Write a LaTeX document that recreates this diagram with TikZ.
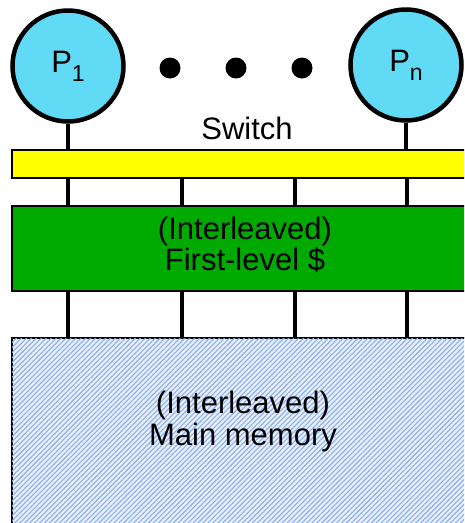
\documentclass[tikz,border=0pt]{standalone}
\usepackage{fontspec}
\setmainfont{Liberation Sans}
\usetikzlibrary{patterns.meta}
\definecolor{proccyan}{RGB}{97,218,245}
\definecolor{switchyellow}{RGB}{255,255,0}
\definecolor{cachegreen}{RGB}{0,170,0}
\definecolor{memhatch}{RGB}{140,175,240}
\definecolor{memback}{RGB}{232,240,253}
\newcommand{\bigtext}{\fontsize{31}{31}\selectfont}
\newcommand{\proclabel}[1]{P\raisebox{-0.28em}{\fontsize{23}{23}\selectfont #1}}
\begin{document}
\begin{tikzpicture}[x=1pt,y=-1pt,
  proc/.style={circle,draw=black,line width=4.5pt,fill=proccyan,minimum size=111pt,inner sep=0pt,font=\bigtext},
  dotmark/.style={circle,fill=black,minimum size=21pt,inner sep=0pt},
  bar/.style={rectangle,draw=black,line width=1.5pt,inner sep=0pt},
  wire/.style={line width=4.5pt},
  lbl/.style={font=\bigtext,inner sep=0pt,align=center}]
\clip (0,0) rectangle (464,523);
\fill[white] (0,0) rectangle (464,523);

% processors and the dots between them
\node[proc] (p1) at (68,66) {\proclabel{1}};
\node[proc] (pn) at (406,65) {\proclabel{n}};
\node[dotmark] (d1) at (170,68) {};
\node[dotmark] (d2) at (236,68) {};
\node[dotmark] (d3) at (302,68) {};

% switch, cache and memory
\node[bar,fill=switchyellow,minimum width=462pt,minimum height=28pt] (sw) at (243,164) {};
\node[lbl] (swl) at (247,128) {Switch};
\node[bar,fill=cachegreen,minimum width=462pt,minimum height=85pt] (cache) at (243,248.5) {};
\node[lbl,font=\fontsize{31}{26}\selectfont] (cachel) at (245,245) {(Interleaved)\\First-level \$};
\node[bar,fill=memback,minimum width=462pt,minimum height=200pt] (mem) at (243,438) {};
\fill[pattern={Lines[angle=45,distance=3.5pt,line width=1.1pt]},pattern color=memhatch]
  (mem.north west) rectangle (mem.south east);
\draw[line width=1.5pt] (mem.south west) |- (mem.north east);
\node[lbl,font=\fontsize{31}{32}\selectfont] (meml) at (243,421) {(Interleaved)\\Main memory};

% processor links to the switch
\draw[wire] (p1.south) -- (p1.south |- sw.north);
\draw[wire] (pn.south) -- (pn.south |- sw.north);

% switch to cache, cache to memory
\foreach \x [count=\i] in {68,182,295,407} {
  \coordinate (sa\i) at (\x,178);
  \coordinate (ca\i) at (\x,206);
  \coordinate (cb\i) at (\x,291);
  \coordinate (ma\i) at (\x,338);
  \draw[wire] (sa\i) -- (ca\i);
  \draw[wire] (cb\i) -- (ma\i);
}
\end{tikzpicture}
\end{document}
